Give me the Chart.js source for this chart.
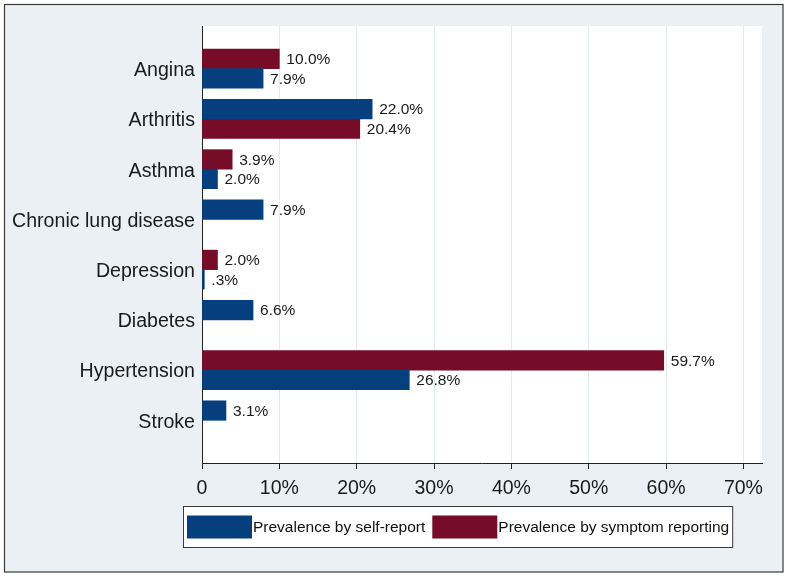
<!DOCTYPE html>
<html>
<head>
<meta charset="utf-8">
<script src="https://cdn.jsdelivr.net/npm/chart.js@4"></script>
<style>
  html, body { margin: 0; padding: 0; background: #ffffff; }
  canvas { display: block; }
</style>
</head>
<body>
<canvas id="prevChart" width="788" height="577"></canvas>
<script>
// --- data ---
const categories = ['Angina', 'Arthritis', 'Asthma', 'Chronic lung disease', 'Depression', 'Diabetes', 'Hypertension', 'Stroke'];
const selfReport = [7.9, 22.0, 2.0, 7.9, 0.3, 6.6, 26.8, 3.1];
const symptomReport = [10.0, 20.4, 3.9, null, 2.0, null, 59.7, null];
const seriesNames = ['Prevalence by self-report', 'Prevalence by symptom reporting'];
const xTickValues = [0, 10, 20, 30, 40, 50, 60, 70];
const xTickLabels = ['0', '10%', '20%', '30%', '40%', '50%', '60%', '70%'];

const BLUE = '#063f7d';
const RED = '#770c28';
const FONT = "'Liberation Sans', Arial, Helvetica, sans-serif";
const SLOT = 0.194; // half a bar, in category units

// larger value of a category sits in the upper slot, a lone bar too
function barPos(i, mine, other) {
    const o = other[i];
    if (o === null || mine[i] >= o) return i - SLOT;
    return i + SLOT;
}

function buildPoints(mine, other) {
    const pts = [];
    mine.forEach((v, i) => {
        if (v === null) return;
        pts.push({ x: v, y: barPos(i, mine, other) });
    });
    return pts;
}

function fmtPct(v) {
    return v.toFixed(1).replace(/^0\./, '.') + '%';
}

// background, outer frame, white plot region
const framePlugin = {
    id: 'frame',
    beforeDraw(chart) {
        const { ctx, chartArea: a } = chart;
        ctx.save();
        ctx.fillStyle = '#ffffff';
        ctx.fillRect(0, 0, chart.width, chart.height);
        ctx.fillStyle = '#eaf0f4';
        ctx.fillRect(4, 4, 779, 568);
        ctx.strokeStyle = '#3a3a3a';
        ctx.lineWidth = 1.2;
        ctx.strokeRect(4.5, 4.5, 778.5, 567.5);
        ctx.fillStyle = '#ffffff';
        ctx.fillRect(a.left, a.top, a.right - a.left, a.bottom - a.top);
        ctx.restore();
    }
};

// value labels at the end of each bar
const valueLabels = {
    id: 'valueLabels',
    afterDatasetsDraw(chart) {
        const ctx = chart.ctx;
        ctx.save();
        ctx.font = '15.5px ' + FONT;
        ctx.fillStyle = '#1a1a1a';
        ctx.textAlign = 'left';
        ctx.textBaseline = 'middle';
        chart.data.datasets.forEach((ds, di) => {
            const meta = chart.getDatasetMeta(di);
            meta.data.forEach((bar, i) => {
                ctx.fillText(fmtPct(ds.data[i].x), bar.x + 7, bar.y + 1);
            });
        });
        ctx.restore();
    }
};

// boxed legend under the axis
const boxLegend = {
    id: 'boxLegend',
    afterDraw(chart) {
        const ctx = chart.ctx;
        const left = 183.5, top = 506.5, h = 41;
        const sw = 65, sh = 23;
        ctx.save();
        ctx.font = '15.5px ' + FONT;
        let x = left + 3.5;
        const items = chart.data.datasets.map(ds => ({ text: ds.label, color: ds.backgroundColor }));
        const widths = items.map(it => ctx.measureText(it.text).width);
        let total = 3.5;
        items.forEach((it, k) => { total += sw + 1 + widths[k] + (k < items.length - 1 ? 7 : 3.5); });
        ctx.fillStyle = '#ffffff';
        ctx.fillRect(left, top, total, h);
        ctx.strokeStyle = '#3a3a3a';
        ctx.lineWidth = 1;
        ctx.strokeRect(left, top, total, h);
        ctx.textBaseline = 'middle';
        items.forEach((it, k) => {
            ctx.fillStyle = it.color;
            ctx.fillRect(x, top + 9, sw, sh);
            x += sw + 1;
            ctx.fillStyle = '#111111';
            ctx.fillText(it.text, x, top + h / 2 + 0.5);
            x += widths[k] + 7;
        });
        ctx.restore();
    }
};

const ctx = document.getElementById('prevChart').getContext('2d');
const prevChart = new Chart(ctx, {
    type: 'bar',
    data: {
        datasets: [{
            label: seriesNames[0],
            data: buildPoints(selfReport, symptomReport),
            backgroundColor: BLUE,
            borderWidth: 0
        }, {
            label: seriesNames[1],
            data: buildPoints(symptomReport, selfReport),
            backgroundColor: RED,
            borderWidth: 0
        }]
    },
    options: {
        indexAxis: 'y',
        responsive: false,
        animation: false,
        devicePixelRatio: 1,
        grouped: false,
        barThickness: 19.5,
        layout: { padding: { left: 0, right: 26, top: 26, bottom: 0 } },
        plugins: {
            legend: { display: false },
            tooltip: { enabled: false }
        },
        scales: {
            x: {
                type: 'linear',
                min: 0,
                max: 72.4,
                afterBuildTicks: axis => { axis.ticks = xTickValues.map(v => ({ value: v })); },
                afterFit: axis => { axis.height = 114; },
                ticks: {
                    callback: (v) => xTickLabels[xTickValues.indexOf(v)],
                    font: { family: FONT, size: 19.5 },
                    color: '#1a1a1a',
                    padding: 8,
                    maxRotation: 0
                },
                grid: {
                    color: '#e2eaee',
                    lineWidth: 1,
                    tickColor: '#222222',
                    tickLength: 6
                },
                border: { color: '#222222', width: 1 }
            },
            y: {
                type: 'linear',
                offset: false,
                reverse: true,
                min: -0.85,
                max: 7.85,
                afterBuildTicks: axis => { axis.ticks = categories.map((c, i) => ({ value: i })); },
                afterFit: axis => { axis.width = 202; },
                ticks: {
                    callback: (v) => categories[v],
                    font: { family: FONT, size: 19.6 },
                    color: '#1a1a1a',
                    padding: 7,
                    labelOffset: 2
                },
                grid: { display: false, drawTicks: false, tickLength: 0 },
                border: { color: '#222222', width: 1 }
            }
        }
    },
    plugins: [framePlugin, valueLabels, boxLegend]
});
</script>
</body>
</html>
